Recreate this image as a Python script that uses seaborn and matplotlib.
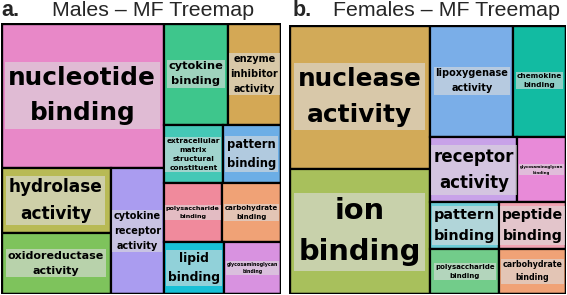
import matplotlib
matplotlib.use('Agg')
import matplotlib.pyplot as plt
import seaborn as sns
from matplotlib.patches import Rectangle

# Males - MF treemap (tile areas)
male_terms = ['nucleotide\nbinding', 'hydrolase\nactivity', 'oxidoreductase\nactivity',
              'cytokine\nreceptor\nactivity', 'cytokine\nbinding', 'enzyme\ninhibitor\nactivity',
              'extracellular\nmatrix\nstructural\nconstituent', 'pattern\nbinding',
              'polysaccharide\nbinding', 'carbohydrate\nbinding', 'lipid\nbinding',
              'glycosaminoglycan\nbinding']
male_sizes = [23635, 7040, 6710, 6625, 6528, 5406, 3422, 3364, 3363, 3422, 3127, 2958]

# Females - MF treemap
female_terms = ['nuclease\nactivity', 'ion\nbinding', 'lipoxygenase\nactivity', 'chemokine\nbinding',
                'receptor\nactivity', 'glycosaminoglycan\nbinding', 'pattern\nbinding',
                'peptide\nbinding', 'polysaccharide\nbinding', 'carbohydrate\nbinding']
female_sizes = [20304, 17484, 9296, 5824, 5655, 3120, 3174, 3036, 3105, 2970]

# how the tiles nest (h = side by side, v = stacked)
male_tree = ('h', [('v', [0, ('h', [('v', [1, 2]), 3])]),
                   ('v', [('h', [4, 5]), ('h', [6, 7]), ('h', [8, 9]), ('h', [10, 11])])])
female_tree = ('h', [('v', [0, 1]),
                     ('v', [('h', [2, 3]), ('h', [4, 5]), ('h', [6, 7]), ('h', [8, 9])])])

male_colors = ['#E888C8', '#B8BA55', '#7EC35C', '#AA9CF0', '#3EC68C', '#D4A855',
               '#44C8B6', '#6CAEE6', '#F08A9C', '#F0A276', '#18C0D6', '#D892E0']
female_colors = ['#D2AA58', '#A8C05C', '#7AAEE8', '#12BBA2', '#C8A2E8', '#E88AD8',
                 '#6CCCD6', '#F0A2B2', '#72CC8A', '#F0A276']
male_fs = [17.8, 12.2, 8.0, 7.0, 8.2, 7.0, 5.3, 8.3, 4.6, 5.0, 8.9, 3.4]
female_fs = [17.8, 20.8, 7.0, 5.3, 12.0, 2.9, 10.4, 10.2, 5.0, 5.7]


def total(node, sizes):
    if isinstance(node, int):
        return sizes[node]
    return sum(total(c, sizes) for c in node[1])


def layout(node, sizes, x0, y0, x1, y1, out):
    if isinstance(node, int):
        out[node] = (x0, y0, x1, y1)
        return
    d, kids = node
    s = total(node, sizes)
    pos = x0 if d == 'h' else y0
    for k in kids:
        frac = total(k, sizes) / s
        if d == 'h':
            w = (x1 - x0) * frac
            layout(k, sizes, pos, y0, pos + w, y1, out)
        else:
            w = (y1 - y0) * frac
            layout(k, sizes, x0, pos, x1, pos + w, out)
        pos += w


def draw(ax, terms, sizes, tree, colors, fss):
    rects = {}
    layout(tree, sizes, 0, 0, 1, 1, rects)
    for i, t in enumerate(terms):
        x0, y0, x1, y1 = rects[i]
        ax.add_patch(Rectangle((x0, y0), x1 - x0, y1 - y0, facecolor=colors[i],
                               edgecolor='black', linewidth=1.6))
        ax.text((x0 + x1) / 2, (y0 + y1) / 2, t, ha='center', va='center',
                fontsize=fss[i], fontweight='bold', family='DejaVu Sans',
                linespacing=1.6, color='black',
                bbox=dict(boxstyle='square,pad=0.15', facecolor='#DCDCDC',
                          edgecolor='none', alpha=0.62))
    ax.add_patch(Rectangle((0, 0), 1, 1, facecolor='none', edgecolor='black',
                           linewidth=2.4))
    ax.set_xlim(0, 1)
    ax.set_ylim(1, 0)
    ax.axis('off')


sns.set_style('white')
W, H = 567, 295
fig = plt.figure(figsize=(W / 100, H / 100), dpi=100)

ax1 = fig.add_axes([0.8 / W, 1 - 294 / H, 280 / W, 271.5 / H])
draw(ax1, male_terms, male_sizes, male_tree, male_colors, male_fs)
ax2 = fig.add_axes([289 / W, 1 - 294 / H, 276.5 / W, 269.5 / H])
draw(ax2, female_terms, female_sizes, female_tree, female_colors, female_fs)

ty = 1 - 11 / H
fig.text(1 / W, ty, 'a.', fontsize=15.5, fontweight='bold', family='Liberation Sans', va='center')
fig.text(52 / W, ty, 'Males \u2013 MF Treemap', fontsize=15.4, family='Liberation Sans', va='center')
fig.text(293 / W, ty, 'b.', fontsize=15.5, fontweight='bold', family='Liberation Sans', va='center')
fig.text(333 / W, ty, 'Females \u2013 MF Treemap', fontsize=15.4, family='Liberation Sans', va='center')

fig.savefig('out.png', dpi=100)
